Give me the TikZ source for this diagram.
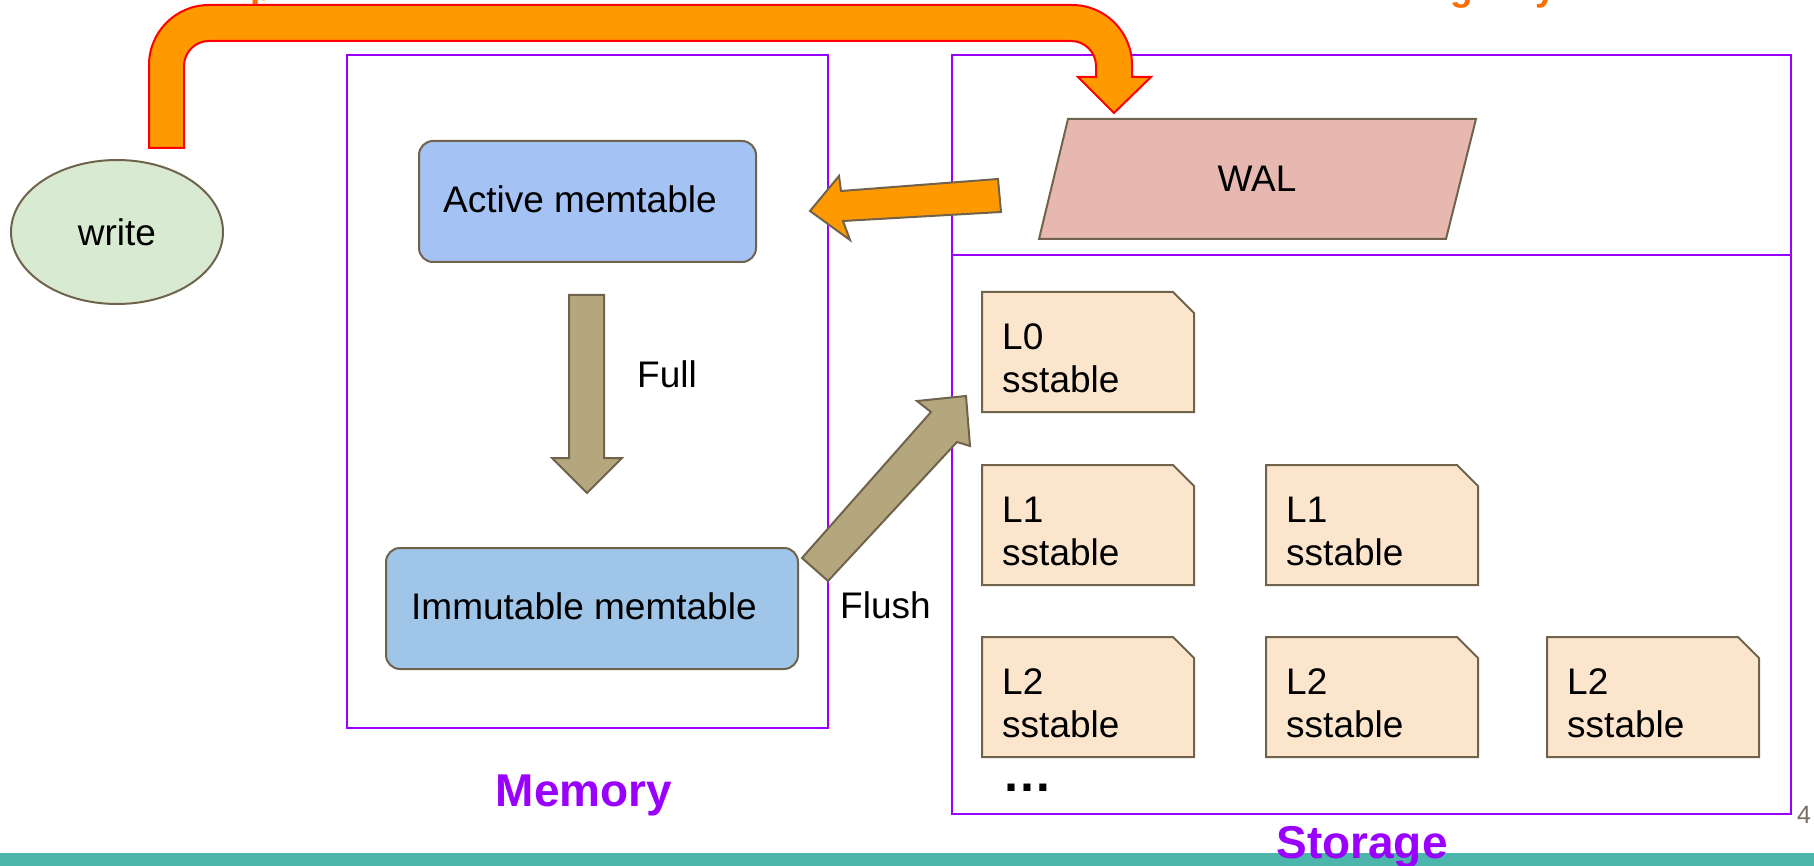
\documentclass[tikz,border=0pt]{standalone}
\usepackage{fontspec}
\setmainfont{Liberation Sans}
\usetikzlibrary{shapes.geometric}

\definecolor{regionpurple}{HTML}{9900FF}
\definecolor{arroworange}{HTML}{FF9900}
\definecolor{arrowred}{HTML}{FF0000}
\definecolor{noteorange}{RGB}{255,109,1}
\definecolor{edgebrown}{RGB}{112,99,76}
\definecolor{writegreen}{HTML}{D9EAD3}
\definecolor{activeblue}{HTML}{A4C2F4}
\definecolor{immutblue}{HTML}{9FC5E8}
\definecolor{walpink}{HTML}{E6B8AF}
\definecolor{sstpeach}{HTML}{FCE5CD}
\definecolor{khaki}{RGB}{180,167,125}
\definecolor{barteal}{HTML}{4DB6AC}
\definecolor{pagegray}{RGB}{120,110,95}

\tikzset{
  region/.style={draw=regionpurple, line width=2.2pt, inner sep=0pt, anchor=north west},
  membox/.style={draw=edgebrown, line width=2pt, rounded corners=14pt, inner sep=0pt, anchor=north west},
  shapeedge/.style={draw=edgebrown, line width=2pt, line join=miter},
  lbl/.style={font=\fontsize{37}{44}\selectfont, inner sep=0pt, text=black},
  caption/.style={font=\fontsize{37}{44}\selectfont\bfseries, inner sep=0pt, text=noteorange, anchor=base west},
  heading/.style={font=\fontsize{46}{52}\selectfont\bfseries, inner sep=0pt, text=regionpurple},
}

% one sstable card with a cut top-right corner: #1 name, #2 x, #3 y, #4 level
\newcommand\sstcard[4]{%
  \draw[shapeedge, fill=sstpeach] (#2,#3) -- ++(191,0) -- ++(21,21) -- ++(0,99) -- ++(-212,0) -- cycle;
  \path (#2,#3) ++(20,57) node[lbl, anchor=base west] (#1) {#4};
  \path (#2,#3) ++(20,100) node[lbl, anchor=base west] {sstable};
}

\begin{document}
\begin{tikzpicture}[x=1pt, y=-1pt]
\useasboundingbox (0,0) rectangle (1814,866);

% bottom bar
\fill[barteal] (0,853) rectangle (1814,866);

% descenders of the caption line above
\node[caption] (capp) at (250,1) {p};
\node[caption] (capg) at (1450,1) {g};
\node[caption] (capy) at (1535,1) {y};

% regions
\node[region, minimum width=481pt, minimum height=673pt] (memory) at (346,54) {};
\node[region, minimum width=839pt, minimum height=759pt] (storage) at (951,54) {};
\draw[regionpurple, line width=2.2pt] (storage.west |- 0,255) -- (storage.east |- 0,255);

% write client
\node[ellipse, draw=edgebrown, line width=2pt, fill=writegreen,
      minimum width=212pt, minimum height=144pt, inner sep=0pt] (write) at (117,232) {};
\node[lbl] at (write.center) {write};

% memtables
\node[membox, fill=activeblue, minimum width=337pt, minimum height=121pt] (active) at (418,140) {};
\node[lbl, anchor=base west] (activetxt) at (443,213) {Active memtable};
\node[membox, fill=immutblue, minimum width=412pt, minimum height=121pt] (immut) at (385,547) {};
\node[lbl, anchor=base west] (immuttxt) at (411,619) {Immutable memtable};

% WAL
\draw[shapeedge, fill=walpink] (1068,119) -- (1476,119) -- (1446,239) -- (1039,239) -- cycle;
\node[lbl] (wal) at (1257,179) {WAL};

% sstables
\sstcard{l0}{982}{292}{L0}
\sstcard{l1a}{982}{465}{L1}
\sstcard{l1b}{1266}{465}{L1}
\sstcard{l2a}{982}{637}{L2}
\sstcard{l2b}{1266}{637}{L2}
\sstcard{l2c}{1547}{637}{L2}
\node[font=\fontsize{50}{56}\selectfont\bfseries, inner sep=0pt, anchor=base west] (more) at (1002,791) {…};

% write path: client -> WAL
\filldraw[fill=arroworange, draw=arrowred, line width=2pt, line join=miter]
  (149,148) -- (149,65) .. controls (149,31.9) and (175.9,5) .. (209,5)
  -- (1072,5) .. controls (1105.1,5) and (1132,31.9) .. (1132,65)
  -- (1132,77) -- (1151,77) -- (1114,113) -- (1078,77) -- (1096,77)
  -- (1096,66) .. controls (1096,52.2) and (1084.8,41) .. (1071,41)
  -- (209,41) .. controls (195.2,41) and (184,52.2) .. (184,66)
  -- (184,148) -- cycle;

% WAL -> active memtable
\filldraw[fill=arroworange, draw=edgebrown, line width=2pt, line join=miter]
  (998,179) -- (841,191) -- (839,176) -- (810,211) -- (850,240) -- (843,221) -- (1001,212) -- cycle;

% active -> immutable (Full)
\filldraw[fill=khaki, draw=edgebrown, line width=2pt, line join=miter]
  (569,295) -- (604,295) -- (604,458) -- (622,458) -- (587,493) -- (552,458) -- (569,458) -- cycle;
\node[lbl, anchor=base west] (full) at (637,387) {Full};

% immutable -> L0 (Flush)
\filldraw[fill=khaki, draw=edgebrown, line width=2pt, line join=miter]
  (802,558) -- (931,412) -- (917,401) -- (966,396) -- (970,446) -- (957,442) -- (828,581) -- cycle;
\node[lbl, anchor=base west] (flush) at (840,618) {Flush};

% region titles
\node[heading, anchor=base] (memlabel) at (584,806) {Memory};
\node[heading, anchor=base] (stlabel) at (1362,858) {Storage};

% page number
\node[font=\fontsize{25}{30}\selectfont, text=pagegray, inner sep=0pt, anchor=base west] (page) at (1797,823) {4};
\end{tikzpicture}
\end{document}
